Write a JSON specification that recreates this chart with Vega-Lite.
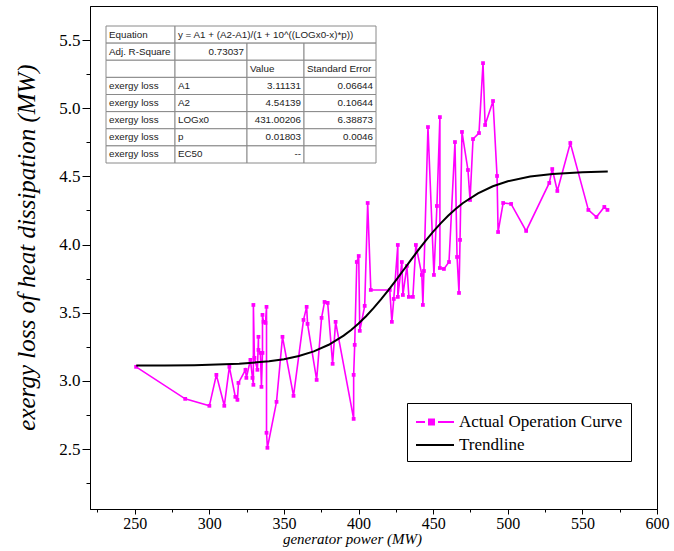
{
  "$schema": "https://vega.github.io/schema/vega-lite/v6.json",
  "width": 567,
  "height": 503,
  "autosize": {"type": "none"},
  "padding": {"left": 90, "top": 6, "right": 17, "bottom": 42},
  "background": "white",
  "config": {
    "view": {"stroke": "black", "strokeWidth": 1},
    "axis": {"grid": false}
  },
  "datasets": {
    "actual": [
      {"i":1,"x":250.9,"y":3.103,"series":"Actual Operation Curve"},
      {"i":2,"x":283.8,"y":2.868,"series":"Actual Operation Curve"},
      {"i":3,"x":300.0,"y":2.817,"series":"Actual Operation Curve"},
      {"i":4,"x":304.7,"y":3.044,"series":"Actual Operation Curve"},
      {"i":5,"x":310.0,"y":2.817,"series":"Actual Operation Curve"},
      {"i":6,"x":313.4,"y":3.103,"series":"Actual Operation Curve"},
      {"i":7,"x":317.4,"y":2.883,"series":"Actual Operation Curve"},
      {"i":8,"x":318.8,"y":2.861,"series":"Actual Operation Curve"},
      {"i":9,"x":319.5,"y":2.985,"series":"Actual Operation Curve"},
      {"i":10,"x":324.2,"y":3.081,"series":"Actual Operation Curve"},
      {"i":11,"x":324.8,"y":3.022,"series":"Actual Operation Curve"},
      {"i":12,"x":327.5,"y":3.154,"series":"Actual Operation Curve"},
      {"i":13,"x":328.9,"y":3.022,"series":"Actual Operation Curve"},
      {"i":14,"x":329.5,"y":2.971,"series":"Actual Operation Curve"},
      {"i":15,"x":329.5,"y":3.557,"series":"Actual Operation Curve"},
      {"i":16,"x":330.2,"y":3.169,"series":"Actual Operation Curve"},
      {"i":17,"x":332.2,"y":3.081,"series":"Actual Operation Curve"},
      {"i":18,"x":332.9,"y":3.323,"series":"Actual Operation Curve"},
      {"i":19,"x":332.9,"y":3.227,"series":"Actual Operation Curve"},
      {"i":20,"x":334.2,"y":3.205,"series":"Actual Operation Curve"},
      {"i":21,"x":334.9,"y":2.956,"series":"Actual Operation Curve"},
      {"i":22,"x":335.6,"y":3.205,"series":"Actual Operation Curve"},
      {"i":23,"x":335.6,"y":3.484,"series":"Actual Operation Curve"},
      {"i":24,"x":336.3,"y":3.433,"series":"Actual Operation Curve"},
      {"i":25,"x":337.6,"y":3.425,"series":"Actual Operation Curve"},
      {"i":26,"x":338.3,"y":3.543,"series":"Actual Operation Curve"},
      {"i":27,"x":338.3,"y":2.619,"series":"Actual Operation Curve"},
      {"i":28,"x":338.9,"y":2.509,"series":"Actual Operation Curve"},
      {"i":29,"x":345.0,"y":2.846,"series":"Actual Operation Curve"},
      {"i":30,"x":349.0,"y":3.323,"series":"Actual Operation Curve"},
      {"i":31,"x":356.4,"y":2.890,"series":"Actual Operation Curve"},
      {"i":32,"x":363.1,"y":3.447,"series":"Actual Operation Curve"},
      {"i":33,"x":365.2,"y":3.543,"series":"Actual Operation Curve"},
      {"i":34,"x":365.8,"y":3.418,"series":"Actual Operation Curve"},
      {"i":35,"x":371.9,"y":3.007,"series":"Actual Operation Curve"},
      {"i":36,"x":375.2,"y":3.462,"series":"Actual Operation Curve"},
      {"i":37,"x":377.2,"y":3.579,"series":"Actual Operation Curve"},
      {"i":38,"x":379.3,"y":3.572,"series":"Actual Operation Curve"},
      {"i":39,"x":382.6,"y":3.125,"series":"Actual Operation Curve"},
      {"i":40,"x":384.6,"y":3.433,"series":"Actual Operation Curve"},
      {"i":41,"x":396.7,"y":2.721,"series":"Actual Operation Curve"},
      {"i":42,"x":396.7,"y":3.044,"series":"Actual Operation Curve"},
      {"i":43,"x":397.4,"y":3.264,"series":"Actual Operation Curve"},
      {"i":44,"x":398.8,"y":3.872,"series":"Actual Operation Curve"},
      {"i":45,"x":400.1,"y":3.916,"series":"Actual Operation Curve"},
      {"i":46,"x":400.8,"y":3.367,"series":"Actual Operation Curve"},
      {"i":47,"x":404.1,"y":3.550,"series":"Actual Operation Curve"},
      {"i":48,"x":406.1,"y":4.305,"series":"Actual Operation Curve"},
      {"i":49,"x":408.2,"y":3.667,"series":"Actual Operation Curve"},
      {"i":50,"x":420.9,"y":3.667,"series":"Actual Operation Curve"},
      {"i":51,"x":422.3,"y":3.433,"series":"Actual Operation Curve"},
      {"i":52,"x":423.6,"y":3.601,"series":"Actual Operation Curve"},
      {"i":53,"x":426.3,"y":3.997,"series":"Actual Operation Curve"},
      {"i":54,"x":426.3,"y":3.616,"series":"Actual Operation Curve"},
      {"i":55,"x":429.0,"y":3.872,"series":"Actual Operation Curve"},
      {"i":56,"x":429.7,"y":3.630,"series":"Actual Operation Curve"},
      {"i":57,"x":432.4,"y":3.843,"series":"Actual Operation Curve"},
      {"i":58,"x":433.7,"y":3.616,"series":"Actual Operation Curve"},
      {"i":59,"x":436.4,"y":3.616,"series":"Actual Operation Curve"},
      {"i":60,"x":438.4,"y":3.997,"series":"Actual Operation Curve"},
      {"i":61,"x":442.4,"y":3.777,"series":"Actual Operation Curve"},
      {"i":62,"x":443.1,"y":3.557,"series":"Actual Operation Curve"},
      {"i":63,"x":443.8,"y":3.806,"series":"Actual Operation Curve"},
      {"i":64,"x":446.5,"y":4.862,"series":"Actual Operation Curve"},
      {"i":65,"x":450.5,"y":3.777,"series":"Actual Operation Curve"},
      {"i":66,"x":452.5,"y":4.283,"series":"Actual Operation Curve"},
      {"i":67,"x":454.5,"y":4.935,"series":"Actual Operation Curve"},
      {"i":68,"x":454.5,"y":3.828,"series":"Actual Operation Curve"},
      {"i":69,"x":457.2,"y":3.821,"series":"Actual Operation Curve"},
      {"i":70,"x":460.6,"y":3.872,"series":"Actual Operation Curve"},
      {"i":71,"x":464.6,"y":4.752,"series":"Actual Operation Curve"},
      {"i":72,"x":466.0,"y":3.909,"series":"Actual Operation Curve"},
      {"i":73,"x":467.3,"y":3.645,"series":"Actual Operation Curve"},
      {"i":74,"x":468.0,"y":4.034,"series":"Actual Operation Curve"},
      {"i":75,"x":469.3,"y":4.826,"series":"Actual Operation Curve"},
      {"i":76,"x":473.3,"y":4.547,"series":"Actual Operation Curve"},
      {"i":77,"x":474.7,"y":4.327,"series":"Actual Operation Curve"},
      {"i":78,"x":476.7,"y":4.774,"series":"Actual Operation Curve"},
      {"i":79,"x":480.7,"y":4.818,"series":"Actual Operation Curve"},
      {"i":80,"x":483.4,"y":5.331,"series":"Actual Operation Curve"},
      {"i":81,"x":484.8,"y":4.877,"series":"Actual Operation Curve"},
      {"i":82,"x":490.1,"y":5.053,"series":"Actual Operation Curve"},
      {"i":83,"x":492.8,"y":4.503,"series":"Actual Operation Curve"},
      {"i":84,"x":493.5,"y":4.092,"series":"Actual Operation Curve"},
      {"i":85,"x":496.9,"y":4.305,"series":"Actual Operation Curve"},
      {"i":86,"x":502.2,"y":4.298,"series":"Actual Operation Curve"},
      {"i":87,"x":512.3,"y":4.100,"series":"Actual Operation Curve"},
      {"i":88,"x":527.8,"y":4.452,"series":"Actual Operation Curve"},
      {"i":89,"x":529.8,"y":4.554,"series":"Actual Operation Curve"},
      {"i":90,"x":533.2,"y":4.393,"series":"Actual Operation Curve"},
      {"i":91,"x":541.9,"y":4.745,"series":"Actual Operation Curve"},
      {"i":92,"x":554.0,"y":4.254,"series":"Actual Operation Curve"},
      {"i":93,"x":559.4,"y":4.202,"series":"Actual Operation Curve"},
      {"i":94,"x":564.7,"y":4.276,"series":"Actual Operation Curve"},
      {"i":95,"x":566.8,"y":4.254,"series":"Actual Operation Curve"}
    ],
    "trend": [
      {"x":251,"y":3.1121,"series":"Trendline"},
      {"x":270,"y":3.1131,"series":"Trendline"},
      {"x":290,"y":3.1154,"series":"Trendline"},
      {"x":300,"y":3.1175,"series":"Trendline"},
      {"x":320,"y":3.1254,"series":"Trendline"},
      {"x":340,"y":3.1433,"series":"Trendline"},
      {"x":350,"y":3.1592,"series":"Trendline"},
      {"x":360,"y":3.1826,"series":"Trendline"},
      {"x":370,"y":3.2166,"series":"Trendline"},
      {"x":380,"y":3.2649,"series":"Trendline"},
      {"x":390,"y":3.3318,"series":"Trendline"},
      {"x":395,"y":3.3734,"series":"Trendline"},
      {"x":400,"y":3.4207,"series":"Trendline"},
      {"x":405,"y":3.4740,"series":"Trendline"},
      {"x":410,"y":3.5330,"series":"Trendline"},
      {"x":415,"y":3.5972,"series":"Trendline"},
      {"x":420,"y":3.6658,"series":"Trendline"},
      {"x":425,"y":3.7377,"series":"Trendline"},
      {"x":431,"y":3.8263,"series":"Trendline"},
      {"x":435,"y":3.8856,"series":"Trendline"},
      {"x":440,"y":3.9585,"series":"Trendline"},
      {"x":445,"y":4.0285,"series":"Trendline"},
      {"x":450,"y":4.0946,"series":"Trendline"},
      {"x":455,"y":4.1557,"series":"Trendline"},
      {"x":460,"y":4.2114,"series":"Trendline"},
      {"x":465,"y":4.2611,"series":"Trendline"},
      {"x":470,"y":4.3049,"series":"Trendline"},
      {"x":480,"y":4.3760,"series":"Trendline"},
      {"x":490,"y":4.4277,"series":"Trendline"},
      {"x":500,"y":4.4642,"series":"Trendline"},
      {"x":515,"y":4.4989,"series":"Trendline"},
      {"x":530,"y":4.5183,"series":"Trendline"},
      {"x":550,"y":4.5312,"series":"Trendline"},
      {"x":567,"y":4.5363,"series":"Trendline"}
    ],
    "table": [
      {"r0":0,"r1":1,"c0":0,"c1":1,"text":"Equation","kind":"label"},
      {"r0":0,"r1":1,"c0":1,"c1":4,"text":"y = A1 + (A2-A1)/(1 + 10^((LOGx0-x)*p))","kind":"label"},
      {"r0":1,"r1":2,"c0":0,"c1":1,"text":"Adj. R-Square","kind":"label"},
      {"r0":1,"r1":2,"c0":1,"c1":2,"text":"0.73037","kind":"number"},
      {"r0":1,"r1":2,"c0":2,"c1":3,"text":"","kind":"label"},
      {"r0":1,"r1":2,"c0":3,"c1":4,"text":"","kind":"label"},
      {"r0":2,"r1":3,"c0":0,"c1":1,"text":"","kind":"label"},
      {"r0":2,"r1":3,"c0":1,"c1":2,"text":"","kind":"label"},
      {"r0":2,"r1":3,"c0":2,"c1":3,"text":"Value","kind":"label"},
      {"r0":2,"r1":3,"c0":3,"c1":4,"text":"Standard Error","kind":"label"},
      {"r0":3,"r1":4,"c0":0,"c1":1,"text":"exergy loss","kind":"label"},
      {"r0":3,"r1":4,"c0":1,"c1":2,"text":"A1","kind":"label"},
      {"r0":3,"r1":4,"c0":2,"c1":3,"text":"3.11131","kind":"number"},
      {"r0":3,"r1":4,"c0":3,"c1":4,"text":"0.06644","kind":"number"},
      {"r0":4,"r1":5,"c0":0,"c1":1,"text":"exergy loss","kind":"label"},
      {"r0":4,"r1":5,"c0":1,"c1":2,"text":"A2","kind":"label"},
      {"r0":4,"r1":5,"c0":2,"c1":3,"text":"4.54139","kind":"number"},
      {"r0":4,"r1":5,"c0":3,"c1":4,"text":"0.10644","kind":"number"},
      {"r0":5,"r1":6,"c0":0,"c1":1,"text":"exergy loss","kind":"label"},
      {"r0":5,"r1":6,"c0":1,"c1":2,"text":"LOGx0","kind":"label"},
      {"r0":5,"r1":6,"c0":2,"c1":3,"text":"431.00206","kind":"number"},
      {"r0":5,"r1":6,"c0":3,"c1":4,"text":"6.38873","kind":"number"},
      {"r0":6,"r1":7,"c0":0,"c1":1,"text":"exergy loss","kind":"label"},
      {"r0":6,"r1":7,"c0":1,"c1":2,"text":"p","kind":"label"},
      {"r0":6,"r1":7,"c0":2,"c1":3,"text":"0.01803","kind":"number"},
      {"r0":6,"r1":7,"c0":3,"c1":4,"text":"0.0046","kind":"number"},
      {"r0":7,"r1":8,"c0":0,"c1":1,"text":"exergy loss","kind":"label"},
      {"r0":7,"r1":8,"c0":1,"c1":2,"text":"EC50","kind":"label"},
      {"r0":7,"r1":8,"c0":2,"c1":3,"text":"--","kind":"number"},
      {"r0":7,"r1":8,"c0":3,"c1":4,"text":"","kind":"label"}
    ]
  },
  "layer": [
    {
      "resolve": {"axis": {"x": "independent", "y": "independent"}},
      "layer": [
        {
          "data": {"name": "actual"},
          "mark": {"type": "line", "strokeWidth": 1.6, "point": {"shape": "square", "size": 14, "filled": true}},
          "encoding": {
            "x": {"field": "x", "type": "quantitative",
              "scale": {"domain": [220, 600], "nice": false, "zero": false},
              "axis": {"orient": "bottom", "values": [250, 300, 350, 400, 450, 500, 550, 600], "tickSize": 5, "tickColor": "black", "domainColor": "black",
                "labelFont": "Liberation Serif", "labelFontSize": 16, "labelColor": "black", "labelPadding": 1, "labelFlush": false,
                "title": "generator power  (MW)", "titleFont": "Liberation Serif", "titleFontSize": 15, "titleFontStyle": "italic", "titleFontWeight": "normal", "titleColor": "black", "titlePadding": 0, "titleX": 262}},
            "y": {"field": "y", "type": "quantitative",
              "scale": {"domain": [2.06, 5.75], "nice": false, "zero": false},
              "axis": {"orient": "left", "values": [2.5, 3.0, 3.5, 4.0, 4.5, 5.0, 5.5], "format": ".1f", "tickSize": 8, "tickColor": "black", "domainColor": "black",
                "labelFont": "Liberation Serif", "labelFontSize": 17, "labelColor": "black", "labelPadding": 2, "labelFlush": false,
                "title": "exergy loss of heat dissipation (MW)", "titleFont": "Liberation Serif", "titleFontSize": 25, "titleFontStyle": "italic", "titleFontWeight": "normal", "titleColor": "black", "titlePadding": 19, "titleY": 241}},
            "order": {"field": "i", "type": "quantitative"},
            "color": {"field": "series", "type": "nominal",
              "scale": {"domain": ["Actual Operation Curve", "Trendline"], "range": ["#ff00ff", "#000000"]},
              "legend": {"orient": "none", "legendX": 317, "legendY": 397, "title": null, "strokeColor": "black", "fillColor": "white", "padding": 8,
                "labelFont": "Liberation Serif", "labelFontSize": 17, "labelColor": "black", "labelLimit": 400,
                "symbolType": "M-1,0H2.8", "symbolSize": 400, "symbolStrokeWidth": 2, "rowPadding": 4, "labelOffset": 22,
                "encode": {"symbols": {"update": {
                  "shape": {"signal": "datum.value === 'Actual Operation Curve' ? 'M-1,0H-0.1M1.2,0H2.8M0.3,-0.25H0.8V0.25H0.3Z' : 'M-1,0H2.8'"},
                  "fill": {"signal": "datum.value === 'Actual Operation Curve' ? '#ff00ff' : 'transparent'"}
                }}}}}
          }
        },
        {
          "data": {"name": "trend"},
          "mark": {"type": "line", "strokeWidth": 2},
          "encoding": {
            "x": {"field": "x", "type": "quantitative", "axis": null},
            "y": {"field": "y", "type": "quantitative", "axis": null},
            "color": {"field": "series", "type": "nominal"}
          }
        },
        {
          "data": {"name": "trend"},
          "mark": {"type": "point", "opacity": 0},
          "encoding": {
            "x": {"field": "x", "type": "quantitative",
              "axis": {"orient": "bottom", "values": [225, 275, 325, 375, 425, 475, 525, 575], "tickSize": 3, "tickColor": "black", "labels": false, "domain": false, "title": null}},
            "y": {"field": "y", "type": "quantitative",
              "axis": {"orient": "left", "values": [2.25, 2.75, 3.25, 3.75, 4.25, 4.75, 5.25], "tickSize": 4, "tickColor": "black", "labels": false, "domain": false, "title": null}}
          }
        }
      ]
    },
    {
      "data": {"name": "table"},
      "layer": [
        {
          "mark": {"type": "rect", "fill": "white", "stroke": "#8a8a8a", "strokeWidth": 1},
          "encoding": {
            "x": {"field": "c0", "type": "quantitative", "scale": {"domain": [0, 1, 2, 3, 4], "range": [16, 85, 157, 214, 286], "nice": false, "zero": false}, "axis": null},
            "x2": {"field": "c1"},
            "y": {"field": "r0", "type": "quantitative", "scale": {"domain": [0, 8], "range": [20, 157], "nice": false, "zero": false}, "axis": null},
            "y2": {"field": "r1"}
          }
        },
        {
          "transform": [{"filter": "datum.kind === 'label'"}],
          "mark": {"type": "text", "align": "left", "baseline": "middle", "dx": 3, "dy": 8.5, "font": "Liberation Sans", "fontSize": 9.8, "color": "#222"},
          "encoding": {
            "x": {"field": "c0", "type": "quantitative", "axis": null},
            "y": {"field": "r0", "type": "quantitative", "axis": null},
            "text": {"field": "text"}
          }
        },
        {
          "transform": [{"filter": "datum.kind === 'number'"}],
          "mark": {"type": "text", "align": "right", "baseline": "middle", "dx": -3, "dy": 8.5, "font": "Liberation Sans", "fontSize": 9.8, "color": "#222"},
          "encoding": {
            "x": {"field": "c1", "type": "quantitative", "axis": null},
            "y": {"field": "r0", "type": "quantitative", "axis": null},
            "text": {"field": "text"}
          }
        }
      ]
    }
  ],
  "resolve": {"scale": {"x": "independent", "y": "independent", "color": "independent"}}
}
